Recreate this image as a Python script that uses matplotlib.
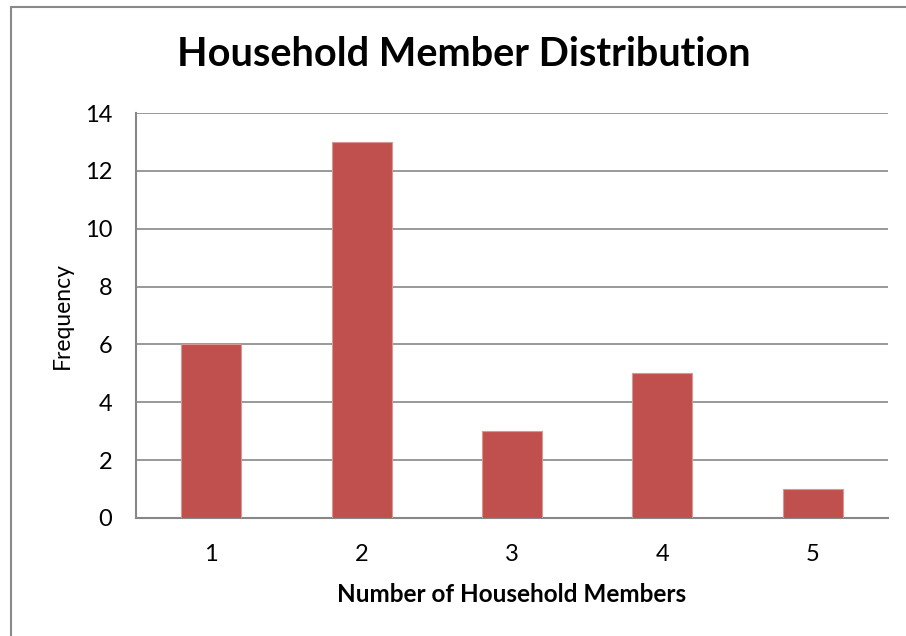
import matplotlib
matplotlib.use("Agg")
import matplotlib.pyplot as plt
from matplotlib.patches import Rectangle

members = [1, 2, 3, 4, 5]
frequency = [6, 13, 3, 5, 1]
y_ticks = [0, 2, 4, 6, 8, 10, 12, 14]

plt.rcParams['font.family'] = ['Lato', 'DejaVu Sans']

fig = plt.figure(figsize=(9.06, 6.36), dpi=100)
ax = fig.add_axes([136 / 906, 1 - 518 / 636, 752 / 906, 405 / 636])

ax.bar(members, frequency, width=0.4, color='#C0504D', edgecolor='#D99694',
       linewidth=0.8, zorder=3)

ax.set_xlim(0.5, 5.5)
ax.set_ylim(0, 14)
ax.set_yticks(y_ticks)
ax.set_xticks(members)
ax.yaxis.grid(True, color='#878787', linewidth=1.2, zorder=0)

for side in ['top', 'right']:
    ax.spines[side].set_visible(False)
for side in ['left', 'bottom']:
    ax.spines[side].set_color('#878787')
    ax.spines[side].set_linewidth(1.5)

ax.tick_params(axis='both', length=0, labelsize=17)
ax.tick_params(axis='y', pad=17)
ax.tick_params(axis='x', pad=19)

ax.set_xlabel('Number of Household Members', fontsize=17.5, fontweight='bold',
              labelpad=13)
ax.set_ylabel('Frequency', fontsize=16.5, labelpad=9)
fig.text(464 / 906, 1 - 55 / 636, 'Household Member Distribution',
         fontsize=28.5, fontweight='bold', ha='center', va='center')

# outer chart border
fig.patches.append(Rectangle((10.5 / 906, -0.1), 1.2, (636 - 6.5) / 636 + 0.1,
                             transform=fig.transFigure, fill=False,
                             edgecolor='#898989', linewidth=1.5))

fig.savefig('out.png', dpi=100)
